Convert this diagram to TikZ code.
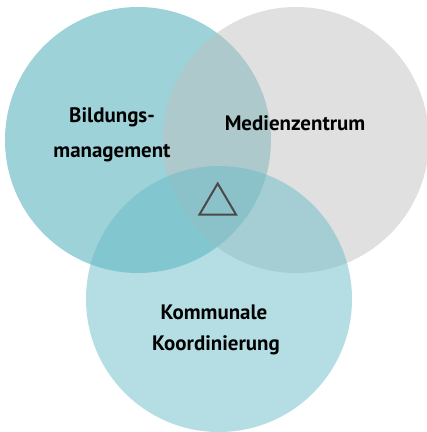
\documentclass[tikz,border=0pt]{standalone}
\usepackage{fontspec}
\setmainfont{PT Sans}
\usepackage{tikz}

\definecolor{tealdark}{RGB}{59,165,177}
\definecolor{greycirc}{RGB}{193,193,193}
\definecolor{teallight}{RGB}{105,189,201}
\definecolor{triline}{RGB}{74,74,74}

\tikzset{
  venn/.style={circle, minimum size=266bp, inner sep=0pt, fill opacity=0.5},
  label/.style={font=\fontsize{21}{24}\selectfont\bfseries, text=black, align=center}
}

\begin{document}
\begin{tikzpicture}[x=1bp,y=-1bp]
\useasboundingbox (0,0) rectangle (427,432);

% Bildungsmanagement
\node[venn, fill=tealdark] (bildung) at (138,140) {};
% Medienzentrum
\node[venn, fill=greycirc] (medien) at (296,140) {};
% Kommunale Koordinierung
\node[venn, fill=teallight] (kommune) at (219,299) {};

% Triangle in the middle
\draw[triline, line width=2bp, line join=miter] (217.7,183.5) -- (236,214.5) -- (199.5,214.5) -- cycle;

% Labels
\node[label] (lblbildung) at (112,117) {Bildungs-};
\node[label] (lblmanagement) at (112,153) {management};
\node[label] (lblmedien) at (295,123) {Medienzentrum};
\node[label] (lblkommunale) at (214,312) {Kommunale};
\node[label] (lblkoord) at (216,345) {Koordinierung};
\end{tikzpicture}
\end{document}
